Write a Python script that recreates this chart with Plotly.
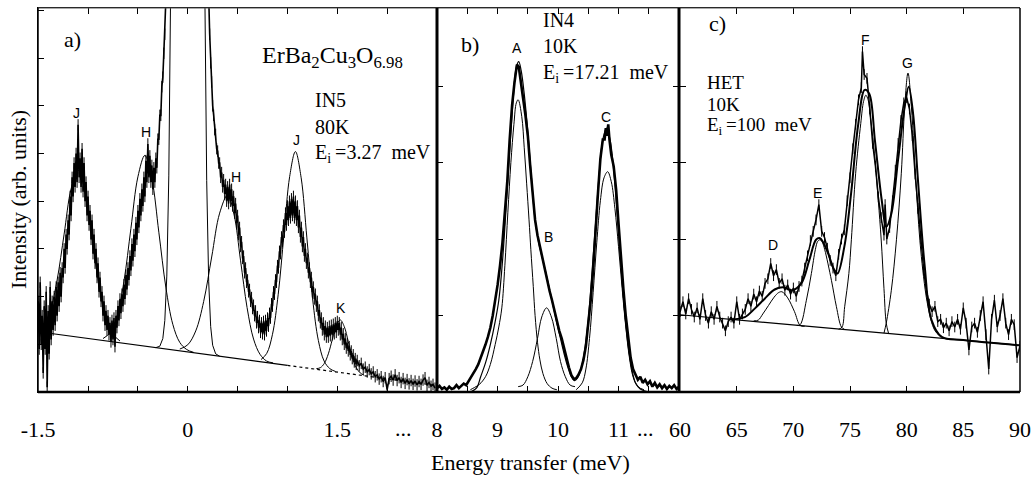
import plotly.graph_objects as go

SERIF = "Liberation Serif, Times New Roman, serif"
SANS = "Liberation Sans, Arial, sans-serif"

# ---------------- Panel a) IN5, 80 K ----------------
a_E = [
 -1.50,-1.49,-1.48,-1.47,-1.46,-1.45,-1.44,-1.43,-1.42,-1.41,
 -1.40,-1.39,-1.38,-1.37,-1.36,-1.35,-1.34,-1.33,-1.32,-1.31,
 -1.30,-1.29,-1.28,-1.27,-1.26,-1.25,-1.24,-1.23,-1.22,-1.21,
 -1.20,-1.19,-1.18,-1.17,-1.16,-1.15,-1.14,-1.13,-1.12,-1.11,
 -1.10,-1.09,-1.08,-1.07,-1.06,-1.05,-1.04,-1.03,-1.02,-1.01,
 -1.00,-0.99,-0.98,-0.97,-0.96,-0.95,-0.94,-0.93,-0.92,-0.91,
 -0.90,-0.89,-0.88,-0.87,-0.86,-0.85,-0.84,-0.83,-0.82,-0.81,
 -0.80,-0.79,-0.78,-0.77,-0.76,-0.75,-0.74,-0.73,-0.72,-0.71,
 -0.70,-0.69,-0.68,-0.67,-0.66,-0.65,-0.64,-0.63,-0.62,-0.61,
 -0.60,-0.59,-0.58,-0.57,-0.56,-0.55,-0.54,-0.53,-0.52,-0.51,
 -0.50,-0.49,-0.48,-0.47,-0.46,-0.45,-0.44,-0.43,-0.42,-0.41,
 -0.40,-0.39,-0.38,-0.37,-0.36,-0.35,-0.34,-0.33,-0.32,-0.31,
 -0.30,-0.29,-0.28,-0.27,-0.26,-0.25,-0.24,-0.23,-0.22,
 -0.20,-0.15,-0.10,0.00,0.10,0.15,0.20,
 0.21,0.22,0.23,0.24,0.25,0.26,0.27,0.28,0.29,0.30,
 0.31,0.32,0.33,0.34,0.35,0.36,0.37,0.38,0.39,0.40,
 0.41,0.42,0.43,0.44,0.45,0.46,0.47,0.48,0.49,0.50,
 0.51,0.52,0.53,0.54,0.55,0.56,0.57,0.58,0.59,0.60,
 0.61,0.62,0.63,0.64,0.65,0.66,0.67,0.68,0.69,0.70,
 0.71,0.72,0.73,0.74,0.75,0.76,0.77,0.78,0.79,0.80,
 0.81,0.82,0.83,0.84,0.85,0.86,0.87,0.88,0.89,0.90,
 0.91,0.92,0.93,0.94,0.95,0.96,0.97,0.98,0.99,1.00,
 1.01,1.02,1.03,1.04,1.05,1.06,1.07,1.08,1.09,1.10,
 1.11,1.12,1.13,1.14,1.15,1.16,1.17,1.18,1.19,1.20,
 1.21,1.22,1.23,1.24,1.25,1.26,1.27,1.28,1.29,1.30,
 1.31,1.32,1.33,1.34,1.35,1.36,1.37,1.38,1.39,1.40,
 1.41,1.42,1.43,1.44,1.45,1.46,1.47,1.48,1.49,1.50,
 1.51,1.52,1.53,1.54,1.55,1.56,1.57,1.58,1.59,1.60,
 1.61,1.62,1.63,1.64,1.65,1.66,1.67,1.68,1.69,1.70,
 1.72,1.74,1.76,1.78,1.80,1.82,1.84,1.86,1.88,1.90,1.92,1.94,1.96,1.98,2.00,
 2.02,2.04,2.06,2.08,2.10,2.12,2.14,2.16,2.18,2.20,2.22,2.24,
 2.26,2.28,2.30,2.32,2.34,2.36,2.38,2.40,2.42,2.44,2.46,2.48]
a_I = [
 1.9,0.9,2.3,1.0,1.6,0.4,1.8,0.9,2.1,0.1,
 1.7,0.8,2.2,1.1,1.9,1.3,2.0,1.4,2.2,1.6,
 2.3,1.8,2.5,2.0,2.6,2.4,3.0,2.6,3.3,3.0,
 3.6,3.3,4.1,3.7,4.5,4.1,4.8,4.3,5.0,4.4,
 5.6,4.5,4.9,4.3,5.1,4.2,4.8,4.0,4.4,3.7,
 4.1,3.5,3.8,3.2,3.6,2.9,3.3,2.7,3.0,2.4,
 2.7,2.1,2.4,1.9,2.1,1.6,1.9,1.4,1.7,1.3,
 1.6,1.2,1.45,1.05,1.5,1.1,1.55,0.95,1.6,1.35,
 1.8,1.5,1.95,1.65,2.05,1.8,2.25,1.95,2.45,2.15,
 2.6,2.35,2.85,2.55,3.1,2.75,3.3,2.95,3.55,3.2,
 3.8,3.45,4.05,3.7,4.25,3.9,4.5,4.1,4.85,4.4,
 5.2,4.5,4.95,4.4,4.75,4.25,4.7,4.4,4.9,4.7,
 5.3,5.3,5.8,5.8,6.4,6.6,7.1,7.5,8.2,
 10.5,26,72,195,72,26,9.8,
 8.3,7.5,6.9,6.5,6.0,5.8,5.5,5.4,5.1,5.05,
 4.8,4.8,4.5,4.6,4.3,4.45,4.15,4.35,4.0,4.3,
 3.95,4.35,4.0,4.25,3.9,4.1,3.75,3.95,3.55,3.7,
 3.3,3.45,3.05,3.15,2.8,2.85,2.5,2.6,2.3,2.35,
 2.1,2.15,1.9,1.98,1.75,1.82,1.6,1.7,1.45,1.58,
 1.35,1.5,1.25,1.45,1.22,1.48,1.2,1.5,1.28,1.55,
 1.38,1.65,1.55,1.85,1.8,2.1,2.05,2.35,2.3,2.65,
 2.6,2.95,2.9,3.25,3.15,3.5,3.35,3.75,3.5,3.9,
 3.6,4.0,3.65,4.05,3.7,4.1,3.65,4.0,3.6,3.9,
 3.45,3.7,3.25,3.45,3.05,3.25,2.85,3.0,2.7,2.8,
 2.5,2.6,2.3,2.4,2.1,2.2,1.95,2.05,1.8,1.9,
 1.6,1.72,1.45,1.55,1.3,1.45,1.2,1.38,1.15,1.35,
 1.15,1.38,1.18,1.4,1.2,1.42,1.22,1.45,1.25,1.48,
 1.3,1.45,1.2,1.35,1.1,1.22,1.0,1.12,0.92,1.02,
 0.86,0.95,0.78,0.86,0.7,0.78,0.63,0.7,0.58,0.66,
 0.55,0.6,0.48,0.52,0.42,0.47,0.38,0.42,0.32,0.36,0.27,0.32,0.22,0.3,0.05,
 0.28,0.33,0.25,0.36,0.24,0.3,0.2,0.28,0.18,0.26,0.17,0.24,
 0.16,0.23,0.15,0.22,0.16,0.25,0.3,0.14,0.2,0.12,0.16,0.08]

# fitted components of panel a (background included)
aJ1_E = [-1.50,-1.45,-1.38,-1.31,-1.24,-1.17,-1.10,-1.03,-0.96,-0.89,-0.82,-0.75,-0.68]
aJ1_I = [1.32,1.40,1.70,2.35,3.31,4.26,4.65,4.22,3.23,2.23,1.54,1.21,1.07]
aH1_E = [-0.85,-0.78,-0.71,-0.64,-0.57,-0.50,-0.43,-0.36,-0.29,-0.22,-0.15,-0.08,-0.01,0.06]
aH1_I = [1.12,1.24,1.58,2.32,3.43,4.51,4.96,4.47,3.35,2.20,1.42,1.04,0.89,0.83]
aEL_E = [-0.32,-0.28,-0.25,-0.23,-0.21,-0.19,-0.17,-0.15,-0.10,0.00,0.10,0.15,0.17,0.19,0.21,0.23,0.25,0.28,0.32]
aEL_I = [0.93,0.96,1.12,1.50,2.43,4.53,8.8,16.7,62,181,62,16.6,8.69,4.43,2.31,1.37,0.98,0.80,0.75]
aH2_E = [-0.08,0.00,0.08,0.16,0.24,0.32,0.40,0.465,0.53,0.595,0.66,0.725,0.79,0.855]
aH2_I = [0.90,0.99,1.28,1.90,2.83,3.75,4.13,3.71,2.75,1.77,1.11,0.79,0.65,0.61]
aJ2_E = [0.735,0.7925,0.85,0.9075,0.965,1.0225,1.08,1.1375,1.195,1.2525,1.31,1.3675,1.425,1.4825]
aJ2_I = [0.68,0.81,1.21,2.05,3.30,4.52,5.04,4.49,3.23,1.95,1.08,0.65,0.49,0.43]
aK_E = [1.29,1.33,1.37,1.41,1.45,1.49,1.53,1.57,1.61,1.65,1.69,1.73,1.77]
aK_I = [0.49,0.51,0.60,0.80,1.10,1.39,1.51,1.37,1.06,0.73,0.51,0.40,0.35]
aBG_solid_E = [-1.5, 1.0]
aBG_solid_I = [1.263, 0.558]
aBG_dot_E = [1.0, 2.5]
aBG_dot_I = [0.558, 0.135]

# ---------------- Panel b) IN4, 10 K ----------------
b_E = [8.00,8.04,8.08,8.12,8.16,8.20,8.24,8.28,8.32,8.36,8.40,8.44,8.48,8.52,8.56,8.60,
       8.64,8.68,8.72,8.76,8.80,8.84,8.88,8.92,8.96,9.00,9.04,9.08,9.12,9.16,9.20,9.24,9.28,9.32,
       9.35,9.38,
       9.42,9.46,9.50,9.54,9.58,9.62,9.66,9.70,9.74,9.78,9.82,9.86,9.90,9.94,9.98,10.02,10.06,
       10.10,10.14,10.18,10.22,10.26,10.30,10.34,10.38,10.42,10.46,10.50,10.54,10.58,10.62,10.66,10.70,10.74,
       10.77,10.79,10.81,10.83,10.85,10.88,
       10.92,10.96,11.00,11.04,11.08,11.12,11.16,11.20,11.24,11.28,11.32,11.36,11.40,11.44,
       11.48,11.52,11.56,11.60,11.64,11.68,11.72,11.76,11.80,11.84,11.88,11.92,11.96,12.00]
b_I = [0.05,0.08,0.04,0.06,0.03,0.07,0.04,0.05,0.09,0.05,0.08,0.11,0.09,0.14,0.2,0.24,
       0.3,0.36,0.44,0.53,0.62,0.72,0.84,1.0,1.18,1.4,1.65,1.95,2.35,2.75,3.3,3.75,4.05,4.28,
       4.25,4.1,
       3.85,3.62,3.35,2.95,2.55,2.25,2.05,1.9,1.75,1.6,1.45,1.32,1.2,1.06,0.92,0.8,0.7,
       0.56,0.42,0.32,0.22,0.17,0.18,0.23,0.3,0.42,0.6,0.9,1.2,1.6,2.15,2.6,3.05,3.3,
       3.3,3.45,3.35,3.5,3.3,3.1,
       2.95,2.65,2.2,1.75,1.35,0.99,0.7,0.45,0.3,0.22,0.16,0.2,0.12,0.16,
       0.1,0.14,0.07,0.12,0.06,0.1,0.05,0.09,0.04,0.08,0.05,0.09,0.04,0.07]
bFit_E = [8.55,8.65,8.72,8.80,8.88,8.96,9.02,9.08,9.14,9.20,9.26,9.31,9.35,9.39,9.44,9.50,9.56,
          9.62,9.68,9.74,9.80,9.86,9.92,9.98,10.04,10.10,10.16,10.22,10.27,10.32,10.38,10.44,
          10.50,10.56,10.62,10.68,10.74,10.80,10.86,10.92,10.98,11.04,11.10,11.16,11.22,11.28,11.36,11.50]
bFit_I = [0.0,0.05,0.2,0.38,0.62,0.92,1.2,1.7,2.4,3.15,3.85,4.25,4.32,4.2,3.9,3.4,2.8,
          2.25,1.95,1.75,1.55,1.34,1.12,0.9,0.7,0.5,0.33,0.2,0.15,0.18,0.3,0.55,
          0.95,1.55,2.2,2.85,3.3,3.45,3.3,2.9,2.3,1.65,1.05,0.6,0.3,0.12,0.04,0.0]
bA_E = [8.55,8.62,8.70,8.80,8.88,8.96,9.02,9.07,9.12,9.17,9.22,9.27,9.31,9.34,9.40,9.44,9.48,
        9.52,9.55,9.59,9.62,9.66,9.70,9.75,9.82,9.90,9.98]
bA_I = [0.03,0.06,0.1,0.2,0.36,0.62,0.85,1.1,1.65,2.35,3.0,3.5,3.78,3.82,3.6,3.2,2.73,
        2.25,1.86,1.38,1.0,0.65,0.42,0.24,0.11,0.05,0.03]
bB_E = [9.34,9.42,9.50,9.58,9.66,9.73,9.81,9.89,9.97,10.04,10.12,10.20,10.28]
bB_I = [0.07,0.09,0.2,0.4,0.7,0.98,1.1,0.98,0.7,0.4,0.2,0.09,0.07]
bC_E = [10.30,10.40,10.46,10.52,10.58,10.64,10.70,10.76,10.82,10.88,10.94,11.00,11.06,11.12,11.18,11.24,11.32,11.42]
bC_I = [0.03,0.12,0.3,0.7,1.3,1.95,2.5,2.8,2.88,2.75,2.4,1.9,1.35,0.85,0.45,0.2,0.07,0.03]

# ---------------- Panel c) HET, 10 K ----------------
c_E = [60.0,60.25,60.5,60.75,61.0,61.25,61.5,61.75,62.0,62.25,
       62.5,62.75,63.0,63.25,63.5,63.75,64.0,64.25,64.5,64.75,
       65.0,65.25,65.5,65.75,66.0,66.25,66.5,66.75,67.0,67.25,
       67.5,67.75,68.0,68.25,68.5,68.75,69.0,69.25,69.5,69.75,
       70.0,70.25,70.5,70.75,71.0,71.25,71.5,71.75,72.0,72.25,
       72.5,72.75,73.0,73.25,73.5,73.75,74.0,74.25,74.5,74.75,
       75.0,75.25,75.5,75.75,76.0,76.1,76.25,76.5,76.75,77.0,
       77.25,77.5,77.75,78.0,78.1,78.25,78.5,78.75,79.0,79.25,
       79.5,79.75,80.0,80.25,80.5,80.75,81.0,81.25,81.5,81.75,
       82.0,82.25,82.5,82.75,83.0,83.25,83.5,83.75,84.0,84.25,
       84.5,84.75,85.0,85.25,85.5,85.75,86.0,86.25,86.5,86.75,
       87.0,87.25,87.5,87.75,88.0,88.25,88.5,88.75,89.0,89.25,
       89.5,89.75,90.0]
c_I = [1.05,1.18,1.02,1.22,1.08,0.98,1.1,0.95,1.22,1.0,
       0.9,1.05,0.95,1.12,0.98,0.9,0.8,0.92,0.98,0.9,
       1.18,0.95,1.02,1.08,1.22,1.12,1.28,1.18,1.32,1.25,
       1.42,1.48,1.68,1.52,1.6,1.42,1.48,1.33,1.4,1.28,
       1.36,1.25,1.38,1.45,1.62,1.78,1.98,2.1,2.25,2.45,
       2.1,2.02,1.88,1.72,1.62,1.52,1.8,2.0,2.12,2.5,
       2.8,3.18,3.5,3.82,3.98,4.45,4.15,4.1,3.7,3.25,
       2.95,2.55,2.28,2.05,2.45,2.0,2.15,2.5,2.9,3.25,
       3.55,3.78,3.85,3.7,3.35,2.85,2.4,2.0,1.6,1.32,
       1.15,1.05,1.12,0.92,0.95,0.84,0.9,0.8,0.92,0.85,
       0.95,0.82,1.1,0.9,0.55,0.85,0.9,0.78,1.0,1.18,
       0.75,0.3,0.95,1.2,0.85,1.0,1.22,0.9,0.75,0.95,
       0.88,0.45,0.6]
cFit_E = [64.5,65.71,66.59,67.47,68.35,69.1,69.9,70.7,71.4,72.0,72.35,72.94,73.6,73.9,74.5,75.1,
          75.7,76.3,76.7,77.2,77.8,78.2,78.65,79.24,79.83,80.18,80.57,81.0,81.6,82.2,83.1,85.0,90.0]
cFit_I = [0.95,0.98,1.09,1.22,1.34,1.37,1.33,1.42,1.72,1.99,2.01,1.86,1.6,1.55,1.9,2.6,
          3.47,3.95,3.9,3.29,2.51,2.16,2.33,3.03,3.73,3.99,3.64,2.77,1.64,0.94,0.72,0.68,0.61]
cD_E = [66.5,66.9,67.3,67.8,68.3,68.7,69.0,69.5,70.1,70.6,71.0]
cD_I = [0.93,0.94,1.02,1.13,1.24,1.30,1.31,1.23,1.05,0.87,0.86]
cEp_E = [70.3,70.6,71.15,71.59,71.94,72.15,72.35,72.55,72.77,73.36,73.8,74.24,74.5]
cEp_I = [0.87,0.88,1.2,1.55,1.86,1.97,1.99,1.96,1.86,1.46,1.115,0.85,0.82]
cF_E = [74.0,74.3,74.53,74.9,75.12,75.5,75.95,76.2,76.4,76.6,76.8,77.2,77.5,77.75,78.0,78.2,78.4]
cF_I = [0.82,0.85,1.115,1.55,1.99,2.86,3.51,3.8,3.88,3.82,3.6,3.05,2.5,2.0,1.35,0.9,0.77]
cG_E = [78.0,78.2,78.65,79.1,79.53,79.83,80.12,80.42,80.86,81.3,81.89,82.47,83.0]
cG_I = [0.77,0.9,1.33,1.99,2.86,3.73,4.17,3.73,2.64,1.77,1.115,0.81,0.72]
cBG_E = [60.0, 90.0]
cBG_I = [1.01, 0.61]

# tick labels (labelled major ticks + unlabelled minor ticks)
a_ticks = [-1.5, 0.0, 1.5]
a_ticktext = ["-1.5", "0", "1.5"]
a_minor = [-1.0, -0.5, 0.5, 1.0, 2.0]
b_ticks = [8.0, 9.0, 10.0, 11.0]
b_ticktext = ["8", "9", "10", "11"]
b_minor = [8.5, 9.5, 10.5, 11.5]
c_ticks = [60, 65, 70, 75, 80, 85, 90]
c_ticktext = ["60", "65", "70", "75", "80", "85", "90"]

fig = go.Figure()


def add_line(x, y, ax, w=1.0, shape="spline", dash="solid", color="black", err=None):
    kw = {}
    if err is not None:
        kw["error_y"] = dict(type="constant", value=err, thickness=1, width=0, color=color)
    fig.add_trace(go.Scatter(
        x=x, y=y, xaxis="x" + ax, yaxis="y" + ax, mode="lines",
        line=dict(color=color, width=w, shape=shape, dash=dash),
        hoverinfo="skip", showlegend=False, **kw))


# panel a
add_line(aBG_solid_E, aBG_solid_I, "", w=1.2, shape="linear")
add_line(aBG_dot_E, aBG_dot_I, "", w=1.2, shape="linear", dash="dot")
for xs, ys in [(aJ1_E, aJ1_I), (aH1_E, aH1_I), (aH2_E, aH2_I), (aJ2_E, aJ2_I), (aK_E, aK_I)]:
    add_line(xs, ys, "", w=1.0)
add_line(aEL_E, aEL_I, "", w=1.0, shape="linear")
add_line(a_E, a_I, "", w=1.6, shape="linear", err=0.12)

# panel b
add_line(b_E, b_I, "2", w=2.6, shape="linear")
for xs, ys in [(bA_E, bA_I), (bB_E, bB_I), (bC_E, bC_I)]:
    add_line(xs, ys, "2", w=1.0)
add_line(bFit_E, bFit_I, "2", w=1.2)

# panel c
add_line(cBG_E, cBG_I, "3", w=1.2, shape="linear")
for xs, ys in [(cD_E, cD_I), (cEp_E, cEp_I), (cF_E, cF_I), (cG_E, cG_I)]:
    add_line(xs, ys, "3", w=1.0)
add_line(cFit_E, cFit_I, "3", w=2.0)
add_line(c_E, c_I, "3", w=1.5, shape="linear", err=0.07)

W, H = 1035, 480


def px(v):
    return v / W


def py(v):
    return (H - v) / H


YDOM = [py(392), py(8)]
xcommon = dict(ticks="inside", ticklen=6, tickwidth=1, tickcolor="black", showline=True,
               linecolor="black", linewidth=1, mirror="ticks", showgrid=False, zeroline=False,
               automargin=False,
               tickfont=dict(family=SERIF, size=22, color="black"), ticklabelstandoff=18)
ycommon = dict(ticks="inside", ticklen=6, tickwidth=1, tickcolor="black", showline=True,
               linecolor="black", linewidth=1, showgrid=False, zeroline=False, automargin=False,
               showticklabels=False, domain=YDOM)


def minor(vals):
    return dict(tickvals=vals, ticks="inside", ticklen=6, tickwidth=1, tickcolor="black", showgrid=False)


fig.update_layout(
    width=W, height=H, margin=dict(l=0, r=0, t=0, b=0, autoexpand=False),
    paper_bgcolor="white", plot_bgcolor="white",
    xaxis=dict(domain=[px(38), px(437)], range=[-1.502, 2.5], tickvals=a_ticks,
               ticktext=a_ticktext, minor=minor(a_minor), anchor="y", **xcommon),
    yaxis=dict(range=[0, 8.05], tickvals=[1, 2, 3, 4, 5, 6, 7, 8], anchor="x", mirror=False, **ycommon),
    xaxis2=dict(domain=[px(437), px(679)], range=[7.998, 12.0], tickvals=b_ticks,
                ticktext=b_ticktext, minor=minor(b_minor), anchor="y2", **xcommon),
    yaxis2=dict(range=[0, 5.02], tickvals=[1, 2, 3, 4], anchor="x2", mirror="ticks", **ycommon),
    xaxis3=dict(domain=[px(680), px(1020)], range=[59.99, 90.01], tickvals=c_ticks,
                ticktext=c_ticktext, anchor="y3", **xcommon),
    yaxis3=dict(range=[0, 5.02], tickvals=[1, 2, 3, 4], anchor="x3", mirror=False, **ycommon),
)

shapes = []


def pline(x0, y0, x1, y1, w, color="black"):
    shapes.append(dict(type="line", xref="paper", yref="paper", x0=px(x0), y0=py(y0),
                       x1=px(x1), y1=py(y1), line=dict(color=color, width=w)))


pline(38, 392, 1020, 392, 2.5)
pline(38, 8, 1020, 8, 1, "#555555")
pline(38, 8, 38, 392, 1.5)
pline(437, 8, 437, 392, 3)
pline(679, 8, 679, 392, 3)
pline(1020, 8, 1020, 392, 1.5)
fig.update_layout(shapes=shapes)

ann = []


def text(t, x, y, ax, size=20, family=SERIF, xanchor="center"):
    ann.append(dict(text=t, x=x, y=y, xref="x" + ax, yref="y" + ax, showarrow=False,
                    xanchor=xanchor, yanchor="middle", font=dict(family=family, size=size, color="black")))


# panel a texts
text("a)", -1.16, 7.38, "", size=22)
text("ErBa<sub>2</sub>Cu<sub>3</sub>O<sub>6.98</sub>", 1.447, 7.02, "", size=24)
text("IN5", 1.257, 6.12, "", size=20, xanchor="left")
text("80K", 1.257, 5.56, "", size=20, xanchor="left")
text("E<sub>i</sub>\u2009=3.27\u00a0\u00a0meV", 1.257, 5.01, "", size=20, xanchor="left")
for lab, x, y in [("J", -1.12, 5.85), ("H", -0.417, 5.45), ("H", 0.485, 4.51), ("J", 1.086, 5.28), ("K", 1.537, 1.76)]:
    text(lab, x, y, "", size=14, family=SANS)
# panel b texts
text("b)", 8.545, 4.54, "2", size=22)
text("IN4", 9.72, 4.86, "2", size=20, xanchor="left")
text("10K", 9.72, 4.52, "2", size=20, xanchor="left")
text("E<sub>i</sub>\u2009=17.21\u00a0\u00a0meV", 9.72, 4.17, "2", size=20, xanchor="left")
for lab, x, y in [("A", 9.32, 4.50), ("B", 9.85, 2.03), ("C", 10.79, 3.59)]:
    text(lab, x, y, "2", size=14, family=SANS)
# panel c texts
text("c)", 63.27, 4.82, "3", size=22)
text("HET", 62.2, 4.05, "3", size=19, xanchor="left")
text("10K", 62.2, 3.76, "3", size=19, xanchor="left")
text("E<sub>i</sub>\u2009=100\u00a0\u00a0meV", 62.2, 3.48, "3", size=19, xanchor="left")
for lab, x, y in [("D", 68.2, 1.92), ("E", 72.1, 2.60), ("F", 76.33, 4.60), ("G", 80.12, 4.30)]:
    text(lab, x, y, "3", size=14, family=SANS)

# axis break dots and axis titles
for xv, xr in [(2.16, "x"), (11.44, "x2")]:
    ann.append(dict(text="...", x=xv, y=py(428), xref=xr, yref="paper", showarrow=False,
                    xanchor="center", yanchor="middle",
                    font=dict(family=SERIF, size=22, color="black")))
ann.append(dict(text="Energy transfer (meV)", x=px(530), y=py(462), xref="paper", yref="paper",
                showarrow=False, xanchor="center", yanchor="middle",
                font=dict(family=SERIF, size=22, color="black")))
ann.append(dict(text="Intensity (arb. units)", x=px(19), y=py(200), xref="paper", yref="paper",
                showarrow=False, textangle=-90, xanchor="center", yanchor="middle",
                font=dict(family=SERIF, size=22, color="black")))
fig.update_layout(annotations=ann)

fig.write_html("out.html")
